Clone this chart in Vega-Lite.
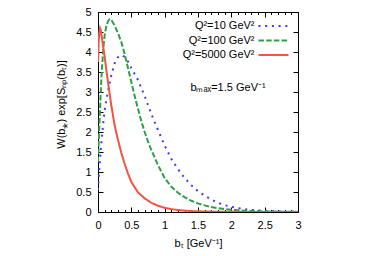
{
  "$schema": "https://vega.github.io/schema/vega-lite/v6.json",
  "width": 200,
  "height": 200,
  "autosize": "none",
  "padding": {"left": 98, "top": 12, "right": 67, "bottom": 44},
  "config": {
    "font": "Liberation Sans",
    "view": {"stroke": "#000", "strokeWidth": 1},
    "axis": {"grid": false, "domain": false, "labelFont": "Liberation Sans", "labelFontSize": 11, "labelColor": "#000", "titleFont": "Liberation Sans", "titleFontSize": 11, "titleFontWeight": "normal", "titleColor": "#000", "tickColor": "#000", "tickWidth": 1}
  },
  "datasets": {
    "curves": [
      {"Q": "Q²=10 GeV²", "b": 0, "W": 0.55}, {"Q": "Q²=10 GeV²", "b": 0.02, "W": 1.1}, {"Q": "Q²=10 GeV²", "b": 0.04, "W": 1.55}, {"Q": "Q²=10 GeV²", "b": 0.06, "W": 1.9}, {"Q": "Q²=10 GeV²", "b": 0.08, "W": 2.25}, {"Q": "Q²=10 GeV²", "b": 0.1, "W": 2.55}, {"Q": "Q²=10 GeV²", "b": 0.125, "W": 2.8}, {"Q": "Q²=10 GeV²", "b": 0.15, "W": 3.02}, {"Q": "Q²=10 GeV²", "b": 0.175, "W": 3.22}, {"Q": "Q²=10 GeV²", "b": 0.2, "W": 3.42}, {"Q": "Q²=10 GeV²", "b": 0.25, "W": 3.72}, {"Q": "Q²=10 GeV²", "b": 0.3, "W": 3.87}, {"Q": "Q²=10 GeV²", "b": 0.35, "W": 3.92}, {"Q": "Q²=10 GeV²", "b": 0.4, "W": 3.88}, {"Q": "Q²=10 GeV²", "b": 0.45, "W": 3.76}, {"Q": "Q²=10 GeV²", "b": 0.5, "W": 3.6}, {"Q": "Q²=10 GeV²", "b": 0.55, "W": 3.45}, {"Q": "Q²=10 GeV²", "b": 0.6, "W": 3.3}, {"Q": "Q²=10 GeV²", "b": 0.7, "W": 2.9}, {"Q": "Q²=10 GeV²", "b": 0.8, "W": 2.45}, {"Q": "Q²=10 GeV²", "b": 0.9, "W": 2.05}, {"Q": "Q²=10 GeV²", "b": 1.0, "W": 1.66}, {"Q": "Q²=10 GeV²", "b": 1.1, "W": 1.33}, {"Q": "Q²=10 GeV²", "b": 1.2, "W": 1.07}, {"Q": "Q²=10 GeV²", "b": 1.3, "W": 0.85}, {"Q": "Q²=10 GeV²", "b": 1.4, "W": 0.67}, {"Q": "Q²=10 GeV²", "b": 1.5, "W": 0.52}, {"Q": "Q²=10 GeV²", "b": 1.6, "W": 0.41}, {"Q": "Q²=10 GeV²", "b": 1.7, "W": 0.31}, {"Q": "Q²=10 GeV²", "b": 1.8, "W": 0.23}, {"Q": "Q²=10 GeV²", "b": 1.9, "W": 0.17}, {"Q": "Q²=10 GeV²", "b": 2.0, "W": 0.13}, {"Q": "Q²=10 GeV²", "b": 2.2, "W": 0.07}, {"Q": "Q²=10 GeV²", "b": 2.4, "W": 0.038}, {"Q": "Q²=10 GeV²", "b": 2.6, "W": 0.02}, {"Q": "Q²=10 GeV²", "b": 2.8, "W": 0.01}, {"Q": "Q²=10 GeV²", "b": 3.0, "W": 0.005},
      {"Q": "Q²=100 GeV²", "b": 0, "W": 1.25}, {"Q": "Q²=100 GeV²", "b": 0.01, "W": 1.7}, {"Q": "Q²=100 GeV²", "b": 0.02, "W": 2.15}, {"Q": "Q²=100 GeV²", "b": 0.03, "W": 2.55}, {"Q": "Q²=100 GeV²", "b": 0.04, "W": 2.95}, {"Q": "Q²=100 GeV²", "b": 0.05, "W": 3.3}, {"Q": "Q²=100 GeV²", "b": 0.06, "W": 3.6}, {"Q": "Q²=100 GeV²", "b": 0.08, "W": 4.1}, {"Q": "Q²=100 GeV²", "b": 0.1, "W": 4.42}, {"Q": "Q²=100 GeV²", "b": 0.125, "W": 4.65}, {"Q": "Q²=100 GeV²", "b": 0.15, "W": 4.77}, {"Q": "Q²=100 GeV²", "b": 0.175, "W": 4.82}, {"Q": "Q²=100 GeV²", "b": 0.2, "W": 4.8}, {"Q": "Q²=100 GeV²", "b": 0.25, "W": 4.66}, {"Q": "Q²=100 GeV²", "b": 0.3, "W": 4.47}, {"Q": "Q²=100 GeV²", "b": 0.35, "W": 4.25}, {"Q": "Q²=100 GeV²", "b": 0.4, "W": 3.95}, {"Q": "Q²=100 GeV²", "b": 0.45, "W": 3.6}, {"Q": "Q²=100 GeV²", "b": 0.5, "W": 3.25}, {"Q": "Q²=100 GeV²", "b": 0.55, "W": 2.9}, {"Q": "Q²=100 GeV²", "b": 0.6, "W": 2.58}, {"Q": "Q²=100 GeV²", "b": 0.65, "W": 2.27}, {"Q": "Q²=100 GeV²", "b": 0.7, "W": 2.0}, {"Q": "Q²=100 GeV²", "b": 0.75, "W": 1.76}, {"Q": "Q²=100 GeV²", "b": 0.8, "W": 1.55}, {"Q": "Q²=100 GeV²", "b": 0.9, "W": 1.17}, {"Q": "Q²=100 GeV²", "b": 1.0, "W": 0.85}, {"Q": "Q²=100 GeV²", "b": 1.1, "W": 0.63}, {"Q": "Q²=100 GeV²", "b": 1.2, "W": 0.48}, {"Q": "Q²=100 GeV²", "b": 1.3, "W": 0.37}, {"Q": "Q²=100 GeV²", "b": 1.4, "W": 0.28}, {"Q": "Q²=100 GeV²", "b": 1.5, "W": 0.215}, {"Q": "Q²=100 GeV²", "b": 1.6, "W": 0.165}, {"Q": "Q²=100 GeV²", "b": 1.7, "W": 0.125}, {"Q": "Q²=100 GeV²", "b": 1.8, "W": 0.095}, {"Q": "Q²=100 GeV²", "b": 1.9, "W": 0.072}, {"Q": "Q²=100 GeV²", "b": 2.0, "W": 0.055}, {"Q": "Q²=100 GeV²", "b": 2.2, "W": 0.032}, {"Q": "Q²=100 GeV²", "b": 2.4, "W": 0.018}, {"Q": "Q²=100 GeV²", "b": 2.6, "W": 0.01}, {"Q": "Q²=100 GeV²", "b": 2.8, "W": 0.006}, {"Q": "Q²=100 GeV²", "b": 3.0, "W": 0.003},
      {"Q": "Q²=5000 GeV²", "b": 0, "W": 3.75}, {"Q": "Q²=5000 GeV²", "b": 0.01, "W": 4.25}, {"Q": "Q²=5000 GeV²", "b": 0.02, "W": 4.5}, {"Q": "Q²=5000 GeV²", "b": 0.03, "W": 4.6}, {"Q": "Q²=5000 GeV²", "b": 0.04, "W": 4.56}, {"Q": "Q²=5000 GeV²", "b": 0.05, "W": 4.45}, {"Q": "Q²=5000 GeV²", "b": 0.07, "W": 4.22}, {"Q": "Q²=5000 GeV²", "b": 0.1, "W": 3.88}, {"Q": "Q²=5000 GeV²", "b": 0.125, "W": 3.55}, {"Q": "Q²=5000 GeV²", "b": 0.15, "W": 3.25}, {"Q": "Q²=5000 GeV²", "b": 0.175, "W": 2.95}, {"Q": "Q²=5000 GeV²", "b": 0.2, "W": 2.66}, {"Q": "Q²=5000 GeV²", "b": 0.25, "W": 2.16}, {"Q": "Q²=5000 GeV²", "b": 0.3, "W": 1.8}, {"Q": "Q²=5000 GeV²", "b": 0.35, "W": 1.48}, {"Q": "Q²=5000 GeV²", "b": 0.4, "W": 1.2}, {"Q": "Q²=5000 GeV²", "b": 0.45, "W": 0.96}, {"Q": "Q²=5000 GeV²", "b": 0.5, "W": 0.75}, {"Q": "Q²=5000 GeV²", "b": 0.6, "W": 0.49}, {"Q": "Q²=5000 GeV²", "b": 0.7, "W": 0.34}, {"Q": "Q²=5000 GeV²", "b": 0.8, "W": 0.23}, {"Q": "Q²=5000 GeV²", "b": 0.9, "W": 0.155}, {"Q": "Q²=5000 GeV²", "b": 1.0, "W": 0.105}, {"Q": "Q²=5000 GeV²", "b": 1.1, "W": 0.072}, {"Q": "Q²=5000 GeV²", "b": 1.2, "W": 0.05}, {"Q": "Q²=5000 GeV²", "b": 1.3, "W": 0.034}, {"Q": "Q²=5000 GeV²", "b": 1.4, "W": 0.023}, {"Q": "Q²=5000 GeV²", "b": 1.6, "W": 0.012}, {"Q": "Q²=5000 GeV²", "b": 1.8, "W": 0.007}, {"Q": "Q²=5000 GeV²", "b": 2.0, "W": 0.004}, {"Q": "Q²=5000 GeV²", "b": 2.5, "W": 0.001}, {"Q": "Q²=5000 GeV²", "b": 3.0, "W": 0.0003}
    ],
    "note": [{"label": "bₘₐₓ=1.5 GeV⁻¹"}]
  },
  "layer": [
    {
      "data": {"name": "curves"},
      "mark": {"type": "line", "strokeCap": "butt", "clip": true},
      "encoding": {
        "x": {"field": "b", "type": "quantitative", "scale": {"domain": [0, 3], "nice": false},
          "axis": {"orient": "bottom", "values": [0, 0.1, 0.2, 0.3, 0.4, 0.5, 0.6, 0.7, 0.8, 0.9, 1, 1.1, 1.2, 1.3, 1.4, 1.5, 1.6, 1.7, 1.8, 1.9, 2, 2.1, 2.2, 2.3, 2.4, 2.5, 2.6, 2.7, 2.8, 2.9, 3],
            "labelExpr": "abs(datum.value*2 - round(datum.value*2)) < 0.001 ? format(datum.value, '~g') : ''",
            "tickSize": {"condition": {"test": "abs(datum.value*2 - round(datum.value*2)) < 0.001", "value": -5}, "value": -2.5},
            "labelPadding": 12, "labelFlush": false, "labelOverlap": false,
            "title": "bₜ [GeV⁻¹]", "titlePadding": 5}},
        "y": {"field": "W", "type": "quantitative", "scale": {"domain": [0, 5], "nice": false},
          "axis": {"orient": "left", "values": [0, 0.5, 1, 1.5, 2, 2.5, 3, 3.5, 4, 4.5, 5], "format": "~g", "tickSize": -5, "labelPadding": 12, "labelFlush": false, "labelOverlap": false,
            "title": "W(b⁎) exp[Sₙₚ(bₜ)]", "titlePadding": 9, "titleY": 92}},
        "color": {"field": "Q", "type": "nominal",
          "scale": {"domain": ["Q²=10 GeV²", "Q²=100 GeV²", "Q²=5000 GeV²"], "range": ["#3a3aff", "#2e9e48", "#f2553f"]},
          "legend": {"orient": "none", "legendX": 169.5, "legendY": 8, "title": null, "symbolType": "M-3,0H3", "symbolSize": 100, "symbolStrokeWidth": 2,
            "labelAlign": "right", "labelOffset": -25, "labelFontSize": 11, "labelFont": "Liberation Sans", "labelColor": "#000", "rowPadding": 3.5, "padding": 0}},
        "strokeDash": {"field": "Q", "type": "nominal",
          "scale": {"domain": ["Q²=10 GeV²", "Q²=100 GeV²", "Q²=5000 GeV²"], "range": [[2, 4.7], [5.5, 2.2], [1, 0]]},
          "legend": {"orient": "none", "legendX": 169.5, "legendY": 8, "title": null, "symbolType": "M-3,0H3", "symbolSize": 100, "symbolStrokeWidth": 2,
            "labelAlign": "right", "labelOffset": -25, "labelFontSize": 11, "labelFont": "Liberation Sans", "labelColor": "#000", "rowPadding": 3.5, "padding": 0}},
        "strokeWidth": {"field": "Q", "type": "nominal",
          "scale": {"domain": ["Q²=10 GeV²", "Q²=100 GeV²", "Q²=5000 GeV²"], "range": [2, 2, 1.3]}, "legend": null}
      }
    },
    {
      "data": {"name": "curves"},
      "mark": {"type": "line", "opacity": 0},
      "encoding": {
        "x": {"field": "b", "type": "quantitative",
          "axis": {"orient": "top", "values": [0, 0.1, 0.2, 0.3, 0.4, 0.5, 0.6, 0.7, 0.8, 0.9, 1, 1.1, 1.2, 1.3, 1.4, 1.5, 1.6, 1.7, 1.8, 1.9, 2, 2.1, 2.2, 2.3, 2.4, 2.5, 2.6, 2.7, 2.8, 2.9, 3],
            "labels": false, "title": null,
            "tickSize": {"condition": {"test": "abs(datum.value*2 - round(datum.value*2)) < 0.001", "value": -5}, "value": -2.5}}},
        "y": {"field": "W", "type": "quantitative",
          "axis": {"orient": "right", "values": [0, 0.5, 1, 1.5, 2, 2.5, 3, 3.5, 4, 4.5, 5], "labels": false, "title": null, "tickSize": -5}},
        "detail": {"field": "Q"}
      }
    },
    {
      "data": {"name": "note"},
      "mark": {"type": "text", "font": "Liberation Sans", "fontSize": 11, "color": "#000", "align": "center", "baseline": "middle"},
      "encoding": {
        "x": {"datum": 1.95, "type": "quantitative", "axis": null},
        "y": {"datum": 3.1, "type": "quantitative", "axis": null},
        "text": {"field": "label"}
      }
    }
  ],
  "resolve": {"axis": {"x": "independent", "y": "independent"}}
}
